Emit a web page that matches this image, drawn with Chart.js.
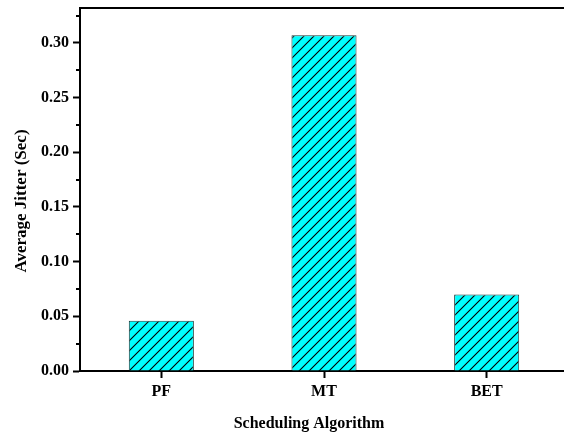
<!DOCTYPE html>
<html>
<head>
<meta charset="utf-8">
<script src="https://cdn.jsdelivr.net/npm/chart.js@4.4.1/dist/chart.umd.min.js"></script>
<style>
  html, body { margin: 0; padding: 0; background: #fff; overflow: hidden; }
  #wrap { width: 600px; height: 432px; }
</style>
</head>
<body>
<div id="wrap"><canvas id="c" width="600" height="432"></canvas></div>
<script>
const categories = ['PF', 'MT', 'BET'];
const jitter = [0.046, 0.307, 0.070];
const yTickValues = [0.00, 0.05, 0.10, 0.15, 0.20, 0.25, 0.30];
const yTickLabels = ['0.00', '0.05', '0.10', '0.15', '0.20', '0.25', '0.30'];
const yMinorValues = [0.025, 0.075, 0.125, 0.175, 0.225, 0.275, 0.325];
const yMax = 0.332;
const xTitle = 'Scheduling Algorithm';
const yTitle = 'Average Jitter (Sec)';

const FONT = "'Liberation Serif', 'Times New Roman', serif";

function hatch() {
  const s = 10;
  const p = document.createElement('canvas');
  p.width = s; p.height = s;
  const g = p.getContext('2d');
  g.fillStyle = '#00FFFF';
  g.fillRect(0, 0, s, s);
  g.strokeStyle = '#000';
  g.lineWidth = 1.1;
  g.beginPath();
  g.moveTo(-1, s + 1); g.lineTo(s + 1, -1);
  g.moveTo(-1, 1); g.lineTo(1, -1);
  g.moveTo(s - 1, s + 1); g.lineTo(s + 1, s - 1);
  g.stroke();
  return g.createPattern(p, 'repeat');
}

const decor = {
  id: 'decor',
  afterDraw(chart) {
    const { ctx, chartArea, scales } = chart;
    const y = scales.y;
    ctx.save();
    ctx.strokeStyle = '#000';
    ctx.lineWidth = 2;
    // top frame line
    ctx.beginPath();
    ctx.moveTo(chartArea.left - 1, chartArea.top);
    ctx.lineTo(chart.width, chartArea.top);
    ctx.stroke();
    // minor ticks
    ctx.beginPath();
    yMinorValues.forEach(v => {
      if (v > yMax) return;
      const py = Math.round(y.getPixelForValue(v));
      ctx.moveTo(chartArea.left - 4, py);
      ctx.lineTo(chartArea.left, py);
    });
    ctx.stroke();
    // axis titles
    ctx.fillStyle = '#000';
    ctx.font = 'bold 16px ' + FONT;
    ctx.textAlign = 'center';
    ctx.textBaseline = 'alphabetic';
    ctx.fillText(xTitle, 309, 428);
    ctx.font = 'bold 17px ' + FONT;
    ctx.translate(26, 201);
    ctx.rotate(-Math.PI / 2);
    ctx.fillText(yTitle, 0, 0);
    ctx.restore();
  }
};

new Chart(document.getElementById('c'), {
  type: 'bar',
  data: {
    labels: categories,
    datasets: [{
      data: jitter,
      backgroundColor: hatch(),
      borderColor: '#1a3a3a',
      borderWidth: 1,
      barPercentage: 0.4,
      categoryPercentage: 1.0
    }]
  },
  options: {
    responsive: false,
    animation: false,
    events: [],
    layout: { padding: { top: 8, right: 32, left: 0, bottom: 0 } },
    plugins: { legend: { display: false }, tooltip: { enabled: false } },
    scales: {
      x: {
        offset: true,
        afterFit(s) { s.height = 61; s.paddingLeft = 0; s.paddingRight = 0; },
        grid: { display: true, drawOnChartArea: false, drawTicks: true, tickLength: 7, tickWidth: 2, tickColor: '#000', offset: false },
        border: { display: true, color: '#000', width: 2 },
        ticks: { color: '#000', padding: 4, font: { family: FONT, size: 16, weight: 'bold' } }
      },
      y: {
        min: 0,
        max: yMax,
        afterFit(s) { s.width = 80; s.paddingTop = 0; s.paddingBottom = 0; },
        afterBuildTicks(s) { s.ticks = yTickValues.map(v => ({ value: v })); },
        grid: { display: true, drawOnChartArea: false, drawTicks: true, tickLength: 7, tickWidth: 2, tickColor: '#000' },
        border: { display: true, color: '#000', width: 2 },
        ticks: {
          color: '#000', padding: 4,
          font: { family: FONT, size: 16, weight: 'bold' },
          callback: (v, i) => yTickLabels[i]
        }
      }
    }
  },
  plugins: [decor]
});
</script>
</body>
</html>
